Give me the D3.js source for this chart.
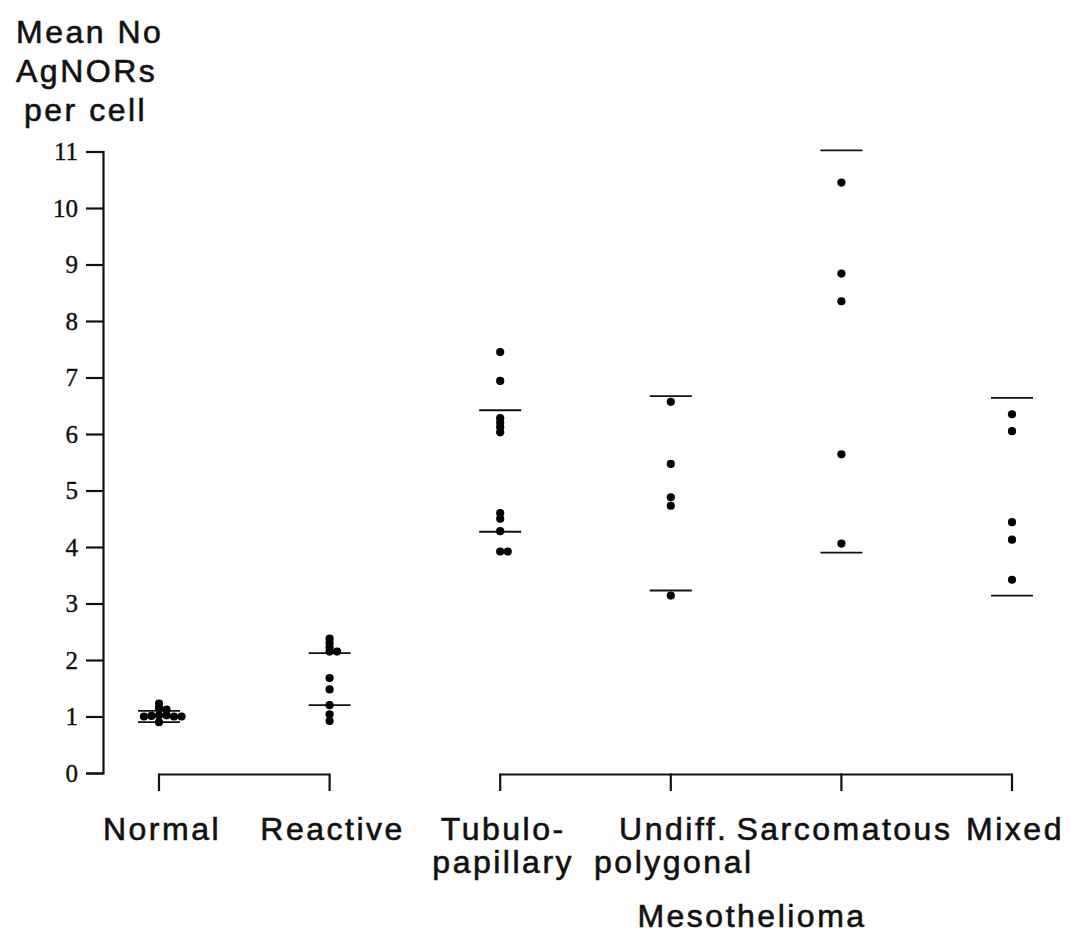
<!DOCTYPE html>
<html>
<head>
<meta charset="utf-8">
<script src="https://cdnjs.cloudflare.com/ajax/libs/d3/7.8.5/d3.min.js"></script>
<style>
  html, body { margin: 0; padding: 0; background: #fff; }
  svg { display: block; }
</style>
</head>
<body>
<svg id="chart" width="1078" height="933"></svg>
<script>
// ---- data ----
const categories = ["Normal", "Reactive", "Tubulo-papillary", "Undiff. polygonal", "Sarcomatous", "Mixed"];
const categoryLabels = [["Normal"], ["Reactive"], ["Tubulo-", "papillary"], ["Undiff.", "polygonal"], ["Sarcomatous"], ["Mixed"]];
const normalValues = [1.23, 1.15, 1.12, 1.02, 1.02, 1.01, 1.0, 1.0, 1.0, 0.9];
const reactiveValues = [2.38, 2.3, 2.22, 2.15, 2.15, 1.68, 1.48, 1.2, 1.04, 0.92];
const tubuloValues = [7.45, 6.94, 6.28, 6.2, 6.12, 6.03, 4.6, 4.5, 4.28, 3.92, 3.92];
const undiffValues = [6.57, 5.47, 4.88, 4.73, 3.14];
const sarcomatousValues = [10.45, 8.84, 8.35, 5.64, 4.06];
const mixedValues = [6.35, 6.05, 4.44, 4.13, 3.42];
const upperLines = [1.1, 2.12, 6.42, 6.67, 11.02, 6.64];
const lowerLines = [0.9, 1.2, 4.27, 3.23, 3.9, 3.14];
const yTicks = [0, 1, 2, 3, 4, 5, 6, 7, 8, 9, 10, 11];
const yTitle = ["Mean No", "AgNORs", "per cell"];
const groupTitle = "Mesothelioma";
const seriesValues = [normalValues, reactiveValues, tubuloValues, undiffValues, sarcomatousValues, mixedValues];

// ---- layout ----
const svg = d3.select("#chart");
const axisX = 103;
const y = d3.scaleLinear().domain([0, 11]).range([773, 151.5]);
const x = d3.scalePoint().domain(categories).range([159, 1012]);

const font = "'Liberation Sans', Arial, Helvetica, sans-serif";
const ink = "#111";

function styleLabel(sel) {
  return sel.attr("fill", ink)
    .attr("stroke", ink).attr("stroke-width", 0.6)
    .style("font-family", font)
    .style("font-size", "32px")
    .style("letter-spacing", "2.5px");
}

// y axis
const yAxis = d3.axisLeft(y).tickValues(yTicks).tickSize(17).tickSizeOuter(17).tickPadding(8)
  .tickFormat(d3.format("d"));
const gAxis = svg.append("g").attr("transform", `translate(${axisX},0)`).call(yAxis);
gAxis.select(".domain").attr("stroke", ink).attr("stroke-width", 2.2).attr("fill", "none");
gAxis.selectAll(".tick line").attr("stroke", ink).attr("stroke-width", 2.2);
gAxis.selectAll(".tick text")
  .attr("fill", ink)
  .attr("stroke", ink).attr("stroke-width", 0.4)
  .style("font-family", "'Liberation Serif', 'Times New Roman', serif")
  .style("font-size", "25px");

// y title
svg.append("g").selectAll("text").data(yTitle).join("text")
  .attr("x", (d, i) => i === 2 ? 24 : 16)
  .attr("y", (d, i) => 43 + i * 39)
  .call(styleLabel)
  .text(d => d);

// brackets under the axis
const bracketTop = 774.5, bracketBottom = 791;
const bracketGroups = [[0, 1], [2, 3, 4, 5]];
const gBr = svg.append("g").attr("stroke", ink).attr("stroke-width", 2.2).attr("fill", "none");
bracketGroups.forEach(g => {
  const xs = g.map(i => x(categories[i]));
  gBr.append("line").attr("x1", xs[0]).attr("x2", xs[xs.length - 1])
    .attr("y1", bracketTop).attr("y2", bracketTop);
  xs.forEach(xx => gBr.append("line").attr("x1", xx).attr("x2", xx)
    .attr("y1", bracketTop - 1).attr("y2", bracketBottom));
});

// category labels
const gLab = svg.append("g");
categories.forEach((c, i) => {
  categoryLabels[i].forEach((t, j) => {
    gLab.append("text")
      .attr("x", x(c) + 3)
      .attr("y", 840 + j * 33)
      .attr("text-anchor", "middle")
      .call(styleLabel)
      .text(t);
  });
});
svg.append("text")
  .attr("x", 752)
  .attr("y", 927)
  .attr("text-anchor", "middle")
  .call(styleLabel)
  .text(groupTitle);

// range lines
const lineHalf = 21;
const gLines = svg.append("g").attr("stroke", ink).attr("stroke-width", 1.8);
categories.forEach((c, i) => {
  [upperLines[i], lowerLines[i]].forEach(v => {
    gLines.append("line")
      .attr("x1", x(c) - lineHalf).attr("x2", x(c) + lineHalf)
      .attr("y1", y(v)).attr("y2", y(v));
  });
});

// dots with a simple dodge for near-identical values
const r = 4.1, step = 7.5, minDy = 3.5;
const gDots = svg.append("g").attr("fill", "#000");
categories.forEach((c, i) => {
  const placed = [];
  seriesValues[i].forEach(v => {
    const cy = y(v);
    let cx;
    const order = [0, 1, -1, 2, -2, 3, -3, 4, -4];
    for (const o of order) {
      cx = x(c) + o * step;
      const clash = placed.some(p => Math.abs(p.cy - cy) < minDy && Math.abs(p.cx - cx) < step * 0.9);
      if (!clash) break;
    }
    placed.push({ cx, cy });
    gDots.append("circle").attr("cx", cx).attr("cy", cy).attr("r", r);
  });
});
</script>
</body>
</html>
